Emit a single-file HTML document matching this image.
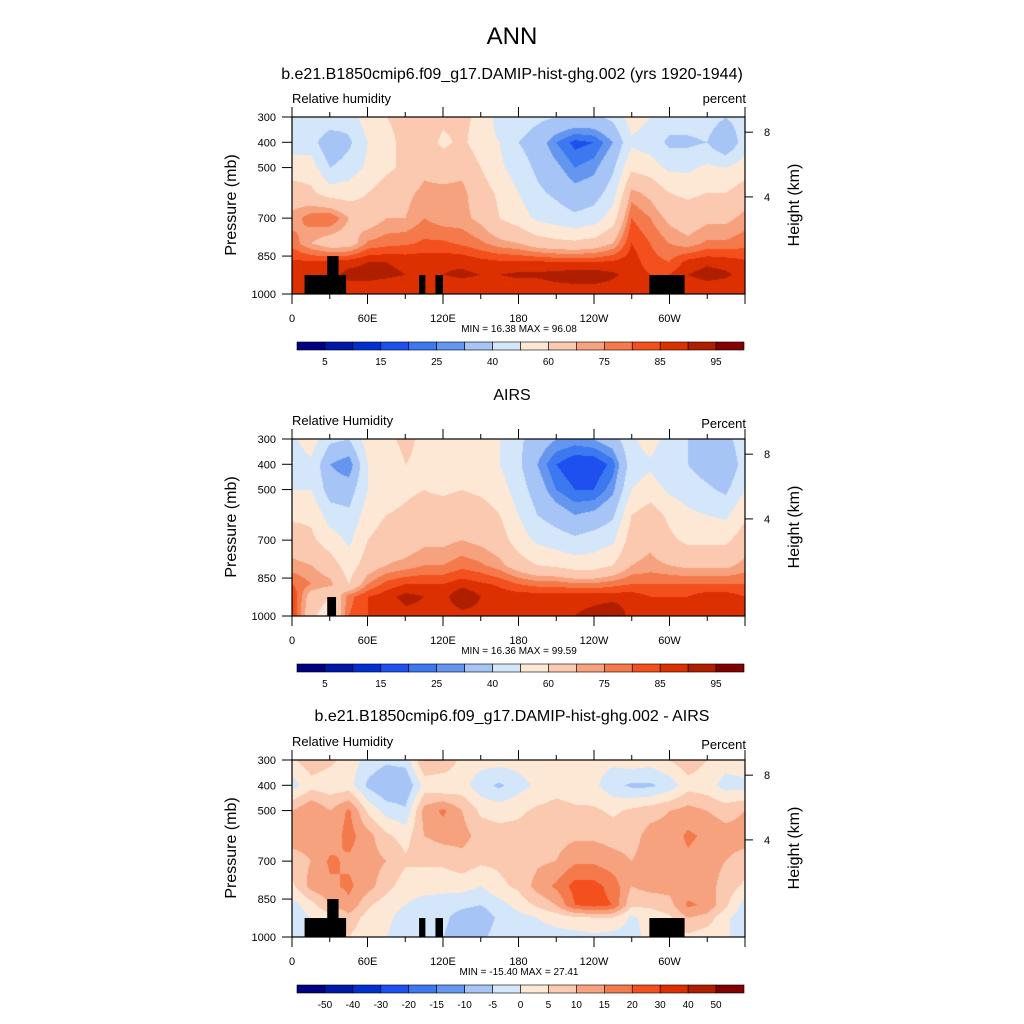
<!DOCTYPE html>
<html><head><meta charset="utf-8"><style>
body{margin:0;background:#fff;width:1024px;height:1024px;overflow:hidden;position:relative;font-family:"Liberation Sans",sans-serif}
canvas{position:absolute;left:292px;width:453px;height:177px}
svg{position:absolute;left:0;top:0}
</style></head><body>
<canvas id="c0" width="453" height="177" style="top:117px"></canvas>
<canvas id="c1" width="453" height="177" style="top:439px"></canvas>
<canvas id="c2" width="453" height="177" style="top:760px"></canvas>
<svg id="s" width="1024" height="1024"></svg>
<script>
const lons=[0,15,30,45,60,75,90,105,120,135,150,165,180,195,210,225,240,255,270,285,300,315,330,345,360];
const pLevels=[300,400,500,600,700,800,875,925,1000];
// columns = longitude, entries = pressure levels top→bottom
const modelRH=[
[45,45,55,65,72,78,86,88,85],[50,45,55,62,78,70,86,88,85],[50,30,40,55,80,65,86,88,85],[45,38,45,55,70,65,88,92,86],
[55,50,52,60,65,76,90,92,86],[60,58,58,65,70,78,90,91,86],[62,62,62,68,70,79,89,90,86],[65,65,68,72,75,81,89,90,86],
[62,58,66,72,72,81,89,90,86],[62,62,68,72,72,79,89,91,86],[58,55,60,65,68,76,87,90,86],[45,50,52,58,60,72,86,90,86],
[45,40,45,50,55,70,86,91,86],[42,35,38,42,48,65,86,91,86],[40,25,32,38,45,63,85,92,87],[38,18,25,33,42,62,85,93,87],
[38,20,28,35,45,64,85,93,87],[42,30,38,45,55,70,86,91,87],[55,48,58,72,80,85,88,88,86],[50,45,55,68,75,80,82,85,85],
[45,38,48,60,68,75,80,85,85],[45,38,48,58,65,72,87,90,86],[45,40,52,60,68,76,89,92,86],[40,30,50,60,68,76,88,91,86],
[45,45,55,65,72,78,86,88,85]];
const airsRH=[
[48,45,50,58,65,72,80,85,85],[55,48,50,58,62,70,75,65,62],[42,30,35,45,55,65,72,60,55],[40,25,35,42,48,55,60,78,80],
[55,50,50,55,60,65,75,85,85],[58,55,55,60,65,70,82,88,85],[62,60,58,62,65,72,85,92,88],[58,58,60,65,68,75,85,90,88],
[55,55,58,66,68,75,85,88,86],[58,58,60,67,70,78,88,95,88],[55,55,58,65,68,76,86,90,88],[50,50,55,60,65,72,84,88,86],
[42,42,45,50,55,65,80,88,87],[35,30,35,40,48,60,78,88,88],[30,20,25,35,45,58,78,88,89],[28,15,20,30,42,55,76,88,90],
[30,15,20,32,45,55,76,88,92],[35,22,28,38,48,60,78,88,95],[48,45,50,60,65,70,80,88,88],[55,48,55,65,68,72,80,85,85],
[45,42,48,58,62,70,80,85,88],[40,40,45,52,58,68,80,85,86],[35,35,42,50,58,68,80,88,88],[35,30,38,48,58,68,80,88,88],
[48,45,50,58,65,72,80,85,85]];
const diffRH=[
[4,-2,10,12,8,4,-2,-3,-3],[8,3,15,12,10,12,3,0,0],[6,2,10,12,16,14,10,2,2],[3,2,16,17,14,16,14,8,5],
[-2,-6,4,12,12,12,6,3,2],[-4,-10,-2,6,10,7,2,1,0],[-3,-10,-4,3,6,2,0,-2,-2],[10,2,12,10,6,2,-2,-4,-3],
[10,0,16,12,6,2,-3,-4,-5],[3,2,10,12,8,2,-4,-7,-7],[2,-3,4,8,6,0,-5,-8,-6],[2,-6,3,7,6,4,-2,-4,-3],
[2,-2,4,7,7,6,2,-2,-2],[3,1,6,8,9,12,6,0,-2],[4,3,7,8,10,16,10,2,-2],[3,2,6,9,14,22,20,4,-2],
[2,1,6,9,14,22,22,5,-1],[1,-3,4,8,12,18,20,5,-2],[3,-6,6,8,10,10,6,-1,-2],[2,-6,8,12,12,12,6,2,2],
[5,-3,10,12,12,12,8,4,2],[8,3,12,16,14,12,16,10,4],[5,2,10,14,12,12,14,8,2],[2,-2,8,12,10,8,6,1,1],
[4,-2,10,12,8,4,-2,-3,-3]];
const rhLevels=[5,10,15,20,25,30,40,50,60,70,75,80,85,90,95];
const rhLabels=["5","15","25","40","60","75","85","95"];
const diffLevels=[-50,-40,-30,-20,-15,-10,-5,0,5,10,15,20,30,40,50];
const diffLabels=["-50","-40","-30","-20","-15","-10","-5","0","5","10","15","20","30","40","50"];
const colors=["#000080","#0018a8","#0030d0","#1e50f0","#3c78f0","#6496f0","#a6c4f6","#d4e6fa","#fde8d6","#fbc8b0","#f6a27e","#f47a4c","#f4501e","#dc3000","#b01e00","#820000"];
const terrainModel={lo:[10,28,101,114,284],hi:[43,37,106,120,312],top:[925,850,925,925,925]};
const terrainAirs={lo:[28],hi:[35],top:[925]};
const xTicks=[0,60,120,180,240,300];
const xTickLabels=["0","60E","120E","180","120W","60W"];
const pTicks=[300,400,500,700,850,1000];
const hTicks=[{p:360,l:"8"},{p:616,l:"4"}];
const panels=[
 {canvas:"c0",data:modelRH,levels:rhLevels,labels:rhLabels,every:2,terr:terrainModel,top:117,title:"b.e21.B1850cmip6.f09_g17.DAMIP-hist-ghg.002 (yrs 1920-1944)",left:"Relative humidity",right:"percent",mm:"MIN =  16.38  MAX =  96.08"},
 {canvas:"c1",data:airsRH,levels:rhLevels,labels:rhLabels,every:2,terr:terrainAirs,top:439,title:"AIRS",left:"Relative Humidity",right:"Percent",mm:"MIN =  16.36  MAX =  99.59"},
 {canvas:"c2",data:diffRH,levels:diffLevels,labels:diffLabels,every:1,terr:terrainModel,top:760,title:"b.e21.B1850cmip6.f09_g17.DAMIP-hist-ghg.002 - AIRS",left:"Relative Humidity",right:"Percent",mm:"MIN = -15.40  MAX =  27.41"}];
const X0=292,W=453,H=177;
const xs=l=>X0+l/360*W;
const ys=(p,top)=>top+(p-300)/700*H;
const NS="http://www.w3.org/2000/svg";
const svg=document.getElementById('s');
function mk(tag,attrs,text){const e=document.createElementNS(NS,tag);for(const k in attrs)e.setAttribute(k,attrs[k]);if(text!==undefined)e.textContent=text;svg.appendChild(e);return e;}
function interp(data,lon,p){
 let i=Math.min(Math.floor(lon/15),23);let fx=(lon-lons[i])/15;
 let j=0;while(j<pLevels.length-2&&p>pLevels[j+1])j++;
 let fy=(p-pLevels[j])/(pLevels[j+1]-pLevels[j]);
 const a=data[i][j],b=data[i+1][j],c=data[i][j+1],d=data[i+1][j+1];
 return (a*(1-fx)+b*fx)*(1-fy)+(c*(1-fx)+d*fx)*fy;}
function colorIdx(v,lv){let k=0;while(k<lv.length&&v>=lv[k])k++;return k;}
function hex(h){return [parseInt(h.substr(1,2),16),parseInt(h.substr(3,2),16),parseInt(h.substr(5,2),16)];}
const rgb=colors.map(hex);
let t=mk('text',{x:512,y:44,'font-size':24,'text-anchor':'middle'},"ANN");


panels.forEach((P,pi)=>{
 const ctx=document.getElementById(P.canvas).getContext('2d');
 const img=ctx.createImageData(W,H);
 for(let y=0;y<H;y++)for(let x=0;x<W;x++){
  const v=interp(P.data,x/(W-1)*360,300+y/(H-1)*700);
  const c=rgb[colorIdx(v,P.levels)];const o=(y*W+x)*4;
  img.data[o]=c[0];img.data[o+1]=c[1];img.data[o+2]=c[2];img.data[o+3]=255;}
 ctx.putImageData(img,0,0);
 const top=P.top,bot=top+H;
 for(let k=0;k<P.terr.lo.length;k++){
  const r=mk('rect',{x:xs(P.terr.lo[k]),y:ys(P.terr.top[k],top),width:xs(P.terr.hi[k])-xs(P.terr.lo[k]),height:bot-ys(P.terr.top[k],top),fill:'#000'});
  
  }
 const fr=mk('rect',{x:X0,y:top,width:W,height:H,fill:'none',stroke:'#000','stroke-width':1.2});
 
 
 for(let l=0;l<=360;l+=30){const maj=l%60===0;const x=xs(l);
  mk('line',{x1:x,x2:x,y1:top-(maj?10:5),y2:top,stroke:'#000'});
  mk('line',{x1:x,x2:x,y1:bot,y2:bot+(maj?10:5),stroke:'#000'});}
 xTicks.forEach((l,k)=>{const e=mk('text',{x:xs(l),y:bot+28,'font-size':11,'text-anchor':'middle'},xTickLabels[k]);
  
  });
 pTicks.forEach(p=>{const y=ys(p,top);mk('line',{x1:X0-10,x2:X0,y1:y,y2:y,stroke:'#000'});
  const e=mk('text',{x:276,y:y+4,'font-size':11,'text-anchor':'end'},String(p));
  
  });
 hTicks.forEach(h=>{const y=ys(h.p,top);mk('line',{x1:X0+W,x2:X0+W+8,y1:y,y2:y,stroke:'#000'});
  const e=mk('text',{x:764,y:y+4,'font-size':11},h.l);
  
  });
 let e=mk('text',{x:0,y:0,'font-size':16,'text-anchor':'middle',transform:`translate(236,${top+88}) rotate(-90)`},"Pressure (mb)");
 
 
 e=mk('text',{x:0,y:0,'font-size':16,'text-anchor':'middle',transform:`translate(799,${top+88}) rotate(-90)`},"Height (km)");
 
 
 e=mk('text',{x:512,y:top-(pi===0?38:39),'font-size':16,'text-anchor':'middle'},P.title);
 
 
 e=mk('text',{x:292,y:top-14,'font-size':13},P.left);
 
 
 e=mk('text',{x:746,y:top-(pi===0?14:11),'font-size':13,'text-anchor':'end'},P.right);
 
 
 e=mk('text',{x:519,y:bot+38,'font-size':10,'text-anchor':'middle'},P.mm);
 
 
 const cy=top+225,cx0=297,cw=(744-297)/16;
 colors.forEach((c,k)=>{const r=mk('rect',{x:cx0+k*cw,y:cy,width:cw,height:8,fill:c,stroke:'#000','stroke-width':0.6});
  
  });
 P.labels.forEach((lb,k)=>{const b=(k*P.every)+1;
  const e2=mk('text',{x:cx0+b*cw,y:cy+23,'font-size':10,'text-anchor':'middle'},lb);
  
  });
});
</script>
</body></html>
